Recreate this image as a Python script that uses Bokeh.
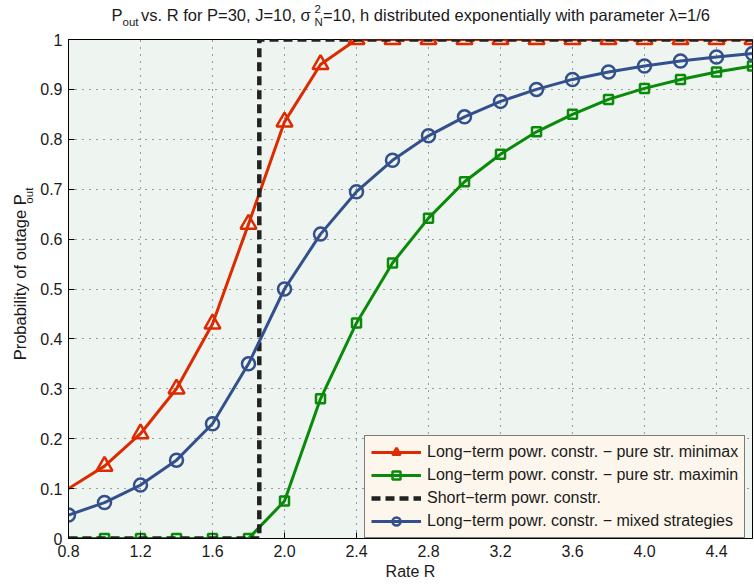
import math
from bokeh.plotting import figure
from bokeh.layouts import column, row
from bokeh.models import Legend, LegendItem, FixedTicker, CustomJSTickFormatter, Range1d
from bokeh.core.properties import value
from bokeh.embed import file_html
from bokeh.resources import INLINE

# ---------------- data ----------------
rate = [0.8, 1.0, 1.2, 1.4, 1.6, 1.8, 2.0, 2.2, 2.4, 2.6, 2.8, 3.0, 3.2, 3.4, 3.6, 3.8, 4.0, 4.2, 4.4, 4.6]
pout_minimax = [0.100, 0.145, 0.210, 0.300, 0.430, 0.630, 0.835, 0.950, 1.0, 1.0,
                1.0, 1.0, 1.0, 1.0, 1.0, 1.0, 1.0, 1.0, 1.0, 1.0]
pout_maximin = [0.0, 0.0, 0.0, 0.0, 0.0, 0.0, 0.075, 0.280, 0.432, 0.552,
                0.642, 0.715, 0.770, 0.815, 0.850, 0.880, 0.902, 0.920, 0.935, 0.947]
pout_mixed = [0.047, 0.072, 0.107, 0.157, 0.230, 0.350, 0.500, 0.610, 0.695, 0.758,
              0.807, 0.845, 0.876, 0.900, 0.920, 0.935, 0.947, 0.957, 0.965, 0.972]
short_rate = [0.8, 1.86, 1.86, 4.6]
pout_short = [0.0, 0.0, 1.0, 1.0]

x_ticks = [0.8, 1.2, 1.6, 2.0, 2.4, 2.8, 3.2, 3.6, 4.0, 4.4]
y_ticks = [0.0, 0.1, 0.2, 0.3, 0.4, 0.5, 0.6, 0.7, 0.8, 0.9, 1.0]

legend_labels = ["Long\u2212term powr. constr. \u2212 pure str. minimax",
                 "Long\u2212term powr. constr. \u2212 pure str. maximin",
                 "Short\u2212term powr. constr.",
                 "Long\u2212term powr. constr. \u2212 mixed strategies"]

title_main_1 = "P"
title_sub_1 = "out"
title_main_2 = " vs. R for P=30, J=10, \u03c3"
title_sup_2 = "2"
title_sub_2 = "N"
title_main_3 = "=10, h distributed exponentially with parameter \u03bb=1/6"
ylab_main = "Probability of outage P"
ylab_sub = "out"
xlab = "Rate R"

# ---------------- layout constants ----------------
W, H = 754, 586
TITLE_H = 30
YLAB_W = 36
FL, FR, FT, FB = 68, 752, 39, 538
FONT = "Liberation Sans"
TXT = "#1a1a1a"
TS, SS = 16.5, 11.5

# Arial / Liberation Sans advance widths (per 1000 em)
AW = {' ': 278, 'a': 556, 'b': 556, 'c': 500, 'd': 556, 'e': 556, 'f': 278, 'g': 556,
      'h': 556, 'i': 222, 'j': 222, 'k': 500, 'l': 222, 'm': 833, 'n': 556, 'o': 556,
      'p': 556, 'q': 556, 'r': 333, 's': 500, 't': 278, 'u': 556, 'v': 500, 'w': 722,
      'x': 500, 'y': 500, 'z': 500, 'P': 667, 'R': 722, 'J': 500, 'N': 722,
      '.': 278, ',': 278, '=': 584, '/': 278, '\u03c3': 571, '\u03bb': 500}

def tw(s, size):
    return sum(AW.get(ch, 556) for ch in s) * size / 1000.0

def blank_fig(w, h):
    f = figure(width=w, height=h, x_range=Range1d(0, w), y_range=Range1d(h, 0),
               output_backend="svg", toolbar_location=None,
               x_axis_type=None, y_axis_type=None,
               min_border=0, min_border_left=0, min_border_right=0,
               min_border_top=0, min_border_bottom=0)
    f.outline_line_color = None
    f.grid.visible = False
    f.background_fill_color = "white"
    f.border_fill_color = "white"
    return f

def put_text(f, x, y, txt, size, angle=0.0, align="left", baseline="alphabetic"):
    f.text(x=[x], y=[y], text=[txt], angle=angle,
           text_font=value(FONT), text_font_size=value(f"{size}px"),
           text_color=TXT, text_baseline=baseline, text_align=align)

# ---------------- title strip ----------------
tf = blank_fig(W, TITLE_H)
base = 14.5
x = 111.0
put_text(tf, x, base, title_main_1, TS); x += tw(title_main_1, TS)
put_text(tf, x, base + 7, title_sub_1, SS); x += tw(title_sub_1, SS) + 2.5
put_text(tf, x, base, title_main_2, TS); x += tw(title_main_2, TS)
put_text(tf, x, base - 6, title_sup_2, SS)
put_text(tf, x, base + 7, title_sub_2, SS)
x += max(tw(title_sup_2, SS), tw(title_sub_2, SS))
put_text(tf, x, base, title_main_3, TS)

# ---------------- y-label strip (rotated, centre-anchored) ----------------
yf = blank_fig(YLAB_W, H - TITLE_H)
y_bottom = 378 - TITLE_H          # where the label starts (reads upward)
w_main = tw(ylab_main, TS)
w_sub = tw(ylab_sub, SS)
put_text(yf, 19.5, y_bottom - w_main / 2, ylab_main, TS, angle=math.pi / 2,
         align="center", baseline="middle")
put_text(yf, 28.0, y_bottom - w_main - w_sub / 2, ylab_sub, SS, angle=math.pi / 2,
         align="center", baseline="middle")

# ---------------- main plot ----------------
p = figure(width=W - YLAB_W, height=H - TITLE_H, x_range=(0.8, 4.6), y_range=(0.0, 1.0),
           output_backend="svg", toolbar_location=None,
           min_border_left=FL - YLAB_W, min_border_right=W - FR,
           min_border_top=FT - TITLE_H, min_border_bottom=H - FB)

p.background_fill_color = "#eef5f0"
p.border_fill_color = "white"
p.outline_line_color = "black"
p.outline_line_width = 1

p.xaxis.ticker = FixedTicker(ticks=x_ticks)
p.yaxis.ticker = FixedTicker(ticks=y_ticks)
p.xaxis.formatter = CustomJSTickFormatter(code="return tick.toFixed(1);")
p.yaxis.formatter = CustomJSTickFormatter(
    code="return (tick < 0.001 || tick > 0.999) ? tick.toFixed(0) : tick.toFixed(1);")
for ax in (p.xaxis[0], p.yaxis[0]):
    ax.major_tick_in = 6
    ax.major_tick_out = 0
    ax.minor_tick_line_color = None
    ax.axis_line_color = "black"
    ax.major_tick_line_color = "black"
    ax.major_label_text_font = FONT
    ax.major_label_text_font_size = "16px"
    ax.major_label_text_color = TXT
    ax.major_label_standoff = 6
p.xaxis.axis_label = xlab
p.xaxis.axis_label_text_font = FONT
p.xaxis.axis_label_text_font_size = "16px"
p.xaxis.axis_label_text_font_style = "normal"
p.xaxis.axis_label_text_color = TXT
p.xaxis.axis_label_standoff = 3

p.xgrid.ticker = FixedTicker(ticks=x_ticks)
p.ygrid.ticker = FixedTicker(ticks=y_ticks)
for g in (p.xgrid[0], p.ygrid[0]):
    g.grid_line_color = "#333333"
    g.grid_line_dash = "1 6"
    g.grid_line_width = 1
    g.grid_line_alpha = 0.9

RED, GREEN, BLUE, BLACK = "#dd2a00", "#0a8a0a", "#33508c", "#222222"

r_line = p.line(rate, pout_minimax, line_color=RED, line_width=3)
r_mark = p.scatter(rate[1:], pout_minimax[1:], marker="triangle", size=16,
                   line_color=RED, line_width=2.5, fill_color=None)
g_line = p.line(rate, pout_maximin, line_color=GREEN, line_width=3)
g_mark = p.scatter(rate[1:], pout_maximin[1:], marker="square", size=9,
                   line_color=GREEN, line_width=2.5, fill_color=None)
k_line = p.line(short_rate, pout_short, line_color=BLACK, line_width=4.5, line_dash="9 5")
b_line = p.line(rate, pout_mixed, line_color=BLUE, line_width=3)
b_mark = p.scatter(rate, pout_mixed, marker="circle", size=13,
                   line_color=BLUE, line_width=2.5, fill_color=None)

legend = Legend(items=[
    LegendItem(label=legend_labels[0], renderers=[r_line, r_mark]),
    LegendItem(label=legend_labels[1], renderers=[g_line, g_mark]),
    LegendItem(label=legend_labels[2], renderers=[k_line]),
    LegendItem(label=legend_labels[3], renderers=[b_line, b_mark]),
], location=(364 - FL, 0))
legend.label_text_font = FONT
legend.label_text_font_size = "16px"
legend.label_text_color = TXT
legend.glyph_width = 50
legend.glyph_height = 20
legend.label_height = 20
legend.spacing = 3
legend.padding = 6
legend.margin = 0
legend.label_standoff = 6
legend.border_line_color = "black"
legend.border_line_width = 1.2
legend.background_fill_color = "#fdf6ec"
legend.background_fill_alpha = 1.0
p.add_layout(legend, "center")

layout = column(tf, row(yf, p, spacing=0), spacing=0)

open("out.html", "w").write(file_html(layout, INLINE))
